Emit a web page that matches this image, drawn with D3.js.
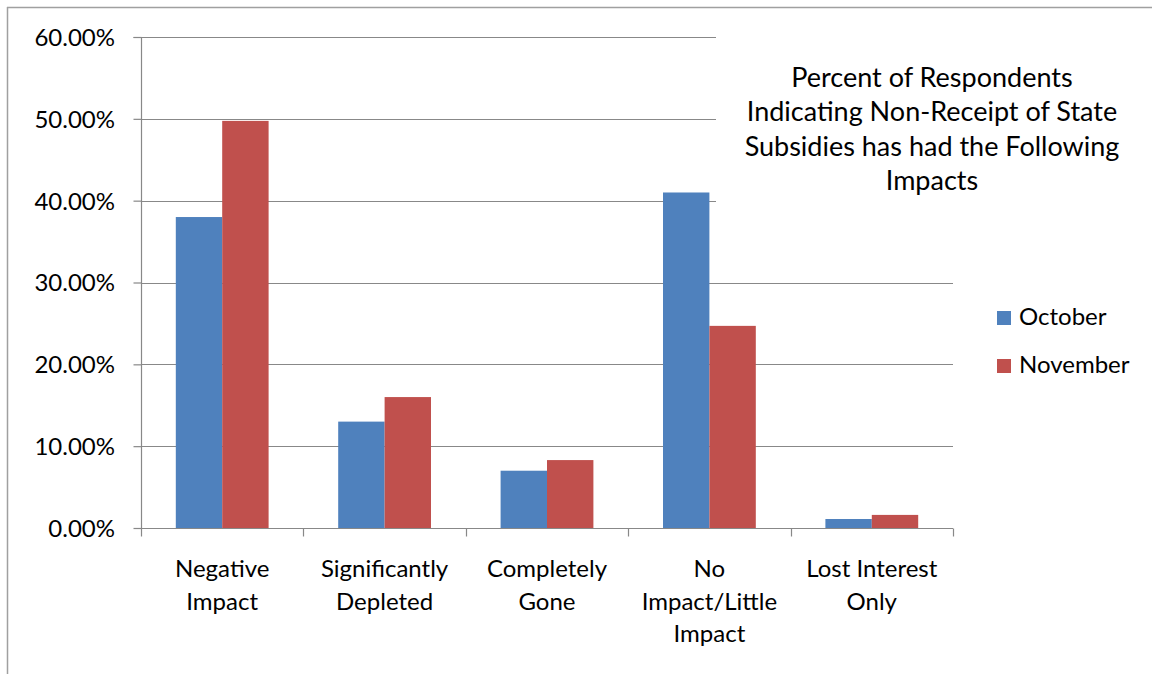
<!DOCTYPE html>
<html>
<head>
<meta charset="utf-8">
<script src="https://cdn.jsdelivr.net/npm/d3@7"></script>
<style>
  html, body { margin: 0; padding: 0; background: #fff; }
  svg { display: block; }
  text { font-family: Lato, "Open Sans", sans-serif; fill: #000; }
</style>
</head>
<body>
<svg id="chart" width="1152" height="674"></svg>
<script>
// Survey results: share of respondents reporting each impact
const categories = [
  ["Negative", "Impact"],
  ["Significantly", "Depleted"],
  ["Completely", "Gone"],
  ["No", "Impact/Little", "Impact"],
  ["Lost Interest", "Only"]
];
const seriesNames = ["October", "November"];
const october  = [0.38, 0.13, 0.07, 0.41, 0.011];
const november = [0.4975, 0.16, 0.083, 0.247, 0.016];
const yTicks = [0, 0.1, 0.2, 0.3, 0.4, 0.5, 0.6];
const titleLines = [
  "Percent of Respondents",
  "Indicating Non-Receipt of State",
  "Subsidies has had the Following",
  "Impacts"
];
const colors = ["#4F81BD", "#C0504D"];

const svg = d3.select("#chart");
const W = 1152, H = 674;
const plot = { left: 141, right: 953, top: 37, bottom: 528 };
const labelSize = 24, titleSize = 27;

// Outer frame (top and left edges visible)
svg.append("line").attr("x1", 7).attr("x2", W).attr("y1", 7.5).attr("y2", 7.5)
  .attr("stroke", "#a0a0a0").attr("stroke-width", 1.5);
svg.append("line").attr("x1", 7.5).attr("x2", 7.5).attr("y1", 7).attr("y2", H)
  .attr("stroke", "#a0a0a0").attr("stroke-width", 1.5);

const x0 = d3.scaleBand()
  .domain(d3.range(categories.length))
  .range([plot.left, plot.right])
  .paddingInner(0).paddingOuter(0);
const barW = x0.bandwidth() / 3.5;     // gap width of 150%
const y = d3.scaleLinear().domain([0, 0.6]).range([plot.bottom, plot.top]);

// Horizontal gridlines
svg.append("g").selectAll("line").data(yTicks.filter(d => d > 0)).join("line")
  .attr("x1", plot.left).attr("x2", plot.right)
  .attr("y1", d => Math.round(y(d)) + 0.5).attr("y2", d => Math.round(y(d)) + 0.5)
  .attr("stroke", "#888").attr("stroke-width", 1.2);

// Bars
const data = categories.map((c, i) => [october[i], november[i]]);
const groups = svg.append("g").selectAll("g").data(data).join("g")
  .attr("transform", (d, i) => `translate(${x0(i) + barW * 0.75},0)`);
groups.selectAll("rect").data(d => d).join("rect")
  .attr("x", (d, j) => j * barW)
  .attr("width", barW)
  .attr("y", d => y(d))
  .attr("height", d => plot.bottom - y(d))
  .attr("fill", (d, j) => colors[j]);

// Title box sits over the upper right of the plot
const titleG = svg.append("g");
titleG.append("rect").attr("x", 716).attr("y", 30).attr("width", 436).attr("height", 178)
  .attr("fill", "#fff");
titleG.append("text")
  .attr("text-anchor", "middle")
  .attr("font-size", titleSize)
  .selectAll("tspan").data(titleLines).join("tspan")
  .attr("x", 932).attr("y", (d, i) => 87 + i * 34.3)
  .text(d => d);

// Y axis
const yAxis = d3.axisLeft(y).tickValues(yTicks).tickSize(8).tickPadding(18.5)
  .tickFormat(d => (d * 100).toFixed(2) + "%");
const ya = svg.append("g").attr("transform", `translate(${plot.left + 0.5},0)`).call(yAxis);
ya.select(".domain").attr("stroke", "#888").attr("stroke-width", 1.2).attr("d", `M-8,${plot.top + 0.5}H0V${plot.bottom + 0.5}`);
ya.selectAll(".tick line").attr("stroke", "#888").attr("stroke-width", 1.2);
ya.selectAll(".tick text").attr("font-size", labelSize).attr("font-family", "Lato, sans-serif")
  .attr("fill", "#000").attr("dy", "0.35em");

// X axis
const xa = svg.append("g").attr("transform", `translate(0,${plot.bottom + 0.5})`);
xa.append("line").attr("x1", plot.left).attr("x2", plot.right).attr("stroke", "#888").attr("stroke-width", 1.2);
xa.selectAll("line.tk").data(d3.range(categories.length + 1)).join("line").attr("class", "tk")
  .attr("x1", i => Math.round(plot.left + i * x0.bandwidth()) + 0.5)
  .attr("x2", i => Math.round(plot.left + i * x0.bandwidth()) + 0.5)
  .attr("y1", 0).attr("y2", 8).attr("stroke", "#888").attr("stroke-width", 1.2);
xa.selectAll("text").data(categories).join("text")
  .attr("text-anchor", "middle").attr("font-size", labelSize)
  .selectAll("tspan").data((d, i) => d.map(t => ({ t, i }))).join("tspan")
  .attr("x", d => x0(d.i) + x0.bandwidth() / 2)
  .attr("y", (d, k) => 48.5 + k * 32.5)
  .text(d => d.t);

// Legend
const lg = svg.append("g").selectAll("g").data(seriesNames).join("g")
  .attr("transform", (d, i) => `translate(997,${311 + i * 48})`);
lg.append("rect").attr("width", 14).attr("height", 14).attr("fill", (d, i) => colors[i]);
lg.append("text").attr("x", 22).attr("y", 14).attr("font-size", labelSize).text(d => d);
</script>
</body>
</html>
